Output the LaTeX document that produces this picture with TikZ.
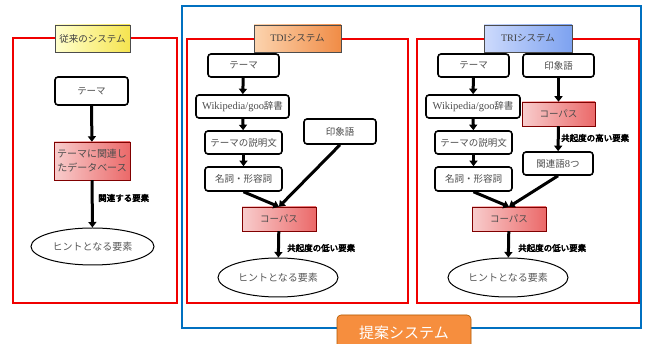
\documentclass[tikz,border=0pt]{standalone}
\usepackage{fontspec}
\setmainfont{Noto Sans CJK JP}
\newfontfamily\lat{Liberation Serif}
\newfontfamily\jpb{Noto Sans CJK JP}[FakeBold=4]
\usetikzlibrary{arrows.meta,shapes.geometric,shadows}
\definecolor{frameblue}{RGB}{0,112,192}
\definecolor{framered}{RGB}{240,0,0}
\definecolor{propfill}{RGB}{246,142,62}
\definecolor{ylL}{RGB}{255,255,205}
\definecolor{ylR}{RGB}{245,228,80}
\definecolor{orL}{RGB}{252,212,175}
\definecolor{orR}{RGB}{240,140,70}
\definecolor{blL}{RGB}{205,218,252}
\definecolor{blR}{RGB}{125,162,240}
\definecolor{rdL}{RGB}{248,205,205}
\definecolor{rdR}{RGB}{235,105,105}
\tikzset{
  frame/.style={draw=framered,line width=2pt},
  bluebox/.style={draw=frameblue,line width=2pt},
  wbox/.style={draw=black,line width=1.6pt,rounded corners=3pt,fill=white,
    text=black!70,font=\fontsize{9.5}{11}\selectfont,inner sep=1pt,align=center},
  cbox/.style={draw=red!50!black,line width=0.5pt,left color=rdL,right color=rdR,
    text=black!70,font=\fontsize{9.5}{11}\selectfont,inner sep=1pt,align=center},
  ttl/.style={draw=black!70,line width=0.5pt,text=black!75,font=\fontsize{9.5}{11}\selectfont,
    drop shadow={shadow xshift=1.2pt,shadow yshift=-1.2pt,fill=black!70,opacity=0.8},inner sep=1pt},
  ell/.style={ellipse,draw=black,line width=1pt,fill=white,text=black!65,
    font=\fontsize{10}{11}\selectfont,inner sep=0pt},
  arr/.style={line width=3pt,-{Triangle[width=8pt,length=5.5pt]}},
  lbl/.style={font=\jpb\fontsize{8.5}{9}\selectfont,anchor=west,inner sep=0pt}
}
\begin{document}
\begin{tikzpicture}[x=1pt,y=-1pt]
\clip (0,0) rectangle (649,344);
\fill[white] (0,0) rectangle (649,344);
% frames
\draw[frame] (13,38) rectangle (177,303);
\draw[bluebox] (182,6) rectangle (641,328);
\draw[frame] (187,39) rectangle (408,303);
\draw[frame] (417,39) rectangle (639,303);
% titles
\node[ttl,left color=ylL,right color=ylR,minimum width=75pt,minimum height=27pt] (t1) at (92.5,38.5) {従来のシステム};
\node[ttl,left color=orL,right color=orR,minimum width=87pt,minimum height=27pt] (t2) at (297.5,38.5) {{\lat\fontsize{10}{11}\selectfont TDI}システム};
\node[ttl,left color=blL,right color=blR,minimum width=88pt,minimum height=27pt] (t3) at (528,38.5) {{\lat\fontsize{10}{11}\selectfont TRI}システム};
% left system
\node[wbox,minimum width=73pt,minimum height=28pt] (th1) at (91.5,91) {テーマ};
\node[cbox,minimum width=76pt,minimum height=38pt,font=\fontsize{10}{14}\selectfont] (db) at (92,161) {テーマに関連し\\たデータベース};
\node[ell,minimum width=123pt,minimum height=37pt] (e1) at (92.5,246.5) {ヒントとなる要素};
\draw[arr] (th1) -- (db);
\draw[arr] (db) -- (e1);
\node[lbl] (l1) at (98,198) {関連する要素};
% TDI
\node[wbox,minimum width=71pt,minimum height=23pt] (th2) at (243.5,65.5) {テーマ};
\node[wbox,minimum width=93pt,minimum height=23pt] (wk2) at (242.5,106.5) {{\lat\fontsize{10.5}{11}\selectfont Wikipedia/goo}辞書};
\node[wbox,minimum width=77pt,minimum height=23pt] (ex2) at (243.5,142.5) {テーマの説明文};
\node[wbox,minimum width=77pt,minimum height=24pt] (nn2) at (243.5,179) {名詞・形容詞};
\node[wbox,minimum width=72pt,minimum height=25pt] (im2) at (340,131.5) {印象語};
\node[cbox,minimum width=74pt,minimum height=24pt] (cp2) at (279,219) {コーパス};
\node[ell,minimum width=120pt,minimum height=39pt] (e2) at (278,277.5) {ヒントとなる要素};
\draw[arr] (th2) -- (wk2);
\draw[arr] (wk2) -- (ex2);
\draw[arr] (ex2) -- (nn2);
\draw[arr] (nn2.south) -- (cp2.north);
\draw[arr] (im2.south) -- (cp2.north);
\draw[arr] (cp2) -- (e2);
\node[lbl] (l2) at (287,248) {共起度の低い要素};
% TRI
\node[wbox,minimum width=71pt,minimum height=23pt] (th3) at (473.5,65.5) {テーマ};
\node[wbox,minimum width=71pt,minimum height=23pt] (im3) at (558.5,65.5) {印象語};
\node[wbox,minimum width=94pt,minimum height=23pt] (wk3) at (473,106.5) {{\lat\fontsize{10.5}{11}\selectfont Wikipedia/goo}辞書};
\node[cbox,minimum width=73pt,minimum height=24pt] (ca3) at (558.5,114) {コーパス};
\node[wbox,minimum width=77pt,minimum height=23pt] (ex3) at (473.5,142.5) {テーマの説明文};
\node[wbox,minimum width=70pt,minimum height=23pt] (rl3) at (558,163.5) {関連語{\lat\fontsize{10.5}{11}\selectfont 8}つ};
\node[wbox,minimum width=77pt,minimum height=24pt] (nn3) at (473.5,179) {名詞・形容詞};
\node[cbox,minimum width=74pt,minimum height=24pt] (cp3) at (509,219) {コーパス};
\node[ell,minimum width=120pt,minimum height=39pt] (e3) at (508,277.5) {ヒントとなる要素};
\draw[arr] (th3) -- (wk3);
\draw[arr] (wk3) -- (ex3);
\draw[arr] (ex3) -- (nn3);
\draw[arr] (im3) -- (ca3);
\draw[arr] (ca3) -- (rl3);
\draw[arr] (nn3.south) -- (cp3.north);
\draw[arr] (rl3.south) -- (cp3.north);
\draw[arr] (cp3) -- (e3);
\node[lbl] (l3) at (561,138) {共起度の高い要素};
\node[lbl] (l4) at (518,248) {共起度の低い要素};
% proposal label
\node[draw=orange!70!black,line width=0.6pt,fill=propfill,rounded corners=4pt,text=white,
  font=\fontsize{15}{17}\selectfont,minimum width=134pt,minimum height=36pt] (prop) at (404,333) {提案システム};
\end{tikzpicture}
\end{document}
